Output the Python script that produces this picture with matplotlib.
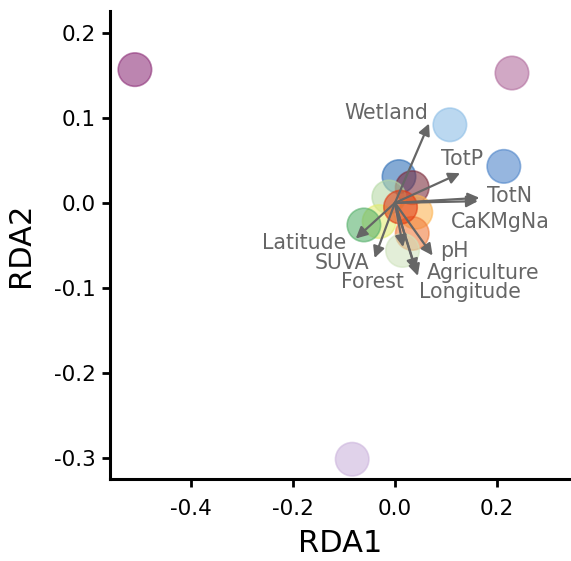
import numpy as np
import matplotlib
matplotlib.use("Agg")
import matplotlib.pyplot as plt

# Site scores (RDA1, RDA2) and fill colours
site_x = [-0.511, 0.230, -0.084, 0.108, 0.214, 0.008, 0.034, -0.012,
          0.041, -0.031, -0.061, 0.034, 0.015, 0.011]
site_y = [0.157, 0.153, -0.302, 0.092, 0.043, 0.031, 0.018, 0.007,
          -0.011, -0.022, -0.026, -0.036, -0.056, -0.005]
site_colors = ["#8c2d77", "#b06a9c", "#cbb3dc", "#8bbde6", "#4a82c8",
               "#2c6db5", "#7a2a3a", "#b5d9a5", "#fdb350", "#e4ec70",
               "#55b06a", "#f07a3a", "#cfe3bd", "#e03a12"]

# Environmental vectors: arrow tips and label positions
env_names = ["Wetland", "TotP", "TotN", "CaKMgNa", "Latitude", "SUVA",
             "Forest", "pH", "Agriculture", "Longitude"]
env_x = [0.067, 0.128, 0.166, 0.163, -0.077, -0.040, 0.016, 0.074, 0.041, 0.045]
env_y = [0.0935, 0.035, 0.006, 0.002, -0.042, -0.065, -0.052, -0.062, -0.080, -0.086]
lab_x = [-0.017, 0.131, 0.225, 0.208, -0.1775, -0.105, -0.0445, 0.117, 0.174, 0.147]
lab_y = [0.1055, 0.052, 0.008, -0.0224, -0.047, -0.0707, -0.093, -0.057, -0.083, -0.105]

fig = plt.figure(figsize=(5.71, 5.61), dpi=100)
ax = fig.add_axes([0.1926, 0.146, 0.8074, 0.834])

ax.scatter(site_x, site_y, s=580, c=site_colors, alpha=0.58,
           edgecolors=site_colors, linewidths=1.2, zorder=2)

for x, y, name, tx, ty in zip(env_x, env_y, env_names, lab_x, lab_y):
    ax.annotate("", xy=(x, y), xytext=(0, 0),
                arrowprops=dict(arrowstyle="-|>", color="#666666", lw=1.6,
                                mutation_scale=17, shrinkA=0, shrinkB=0),
                zorder=3)
    ax.text(tx, ty, name, ha="center", va="center", fontsize=14.8,
            color="#666666", zorder=4)

ax.set_xlim(-0.560, 0.346)
ax.set_ylim(-0.3254, 0.2258)
ax.set_xticks([-0.4, -0.2, 0.0, 0.2])
ax.set_xticklabels(["-0.4", "-0.2", "0.0", "0.2"])
ax.set_yticks([-0.3, -0.2, -0.1, 0.0, 0.1, 0.2])
ax.set_yticklabels(["-0.3", "-0.2", "-0.1", "0.0", "0.1", "0.2"])

for side in ["top", "right"]:
    ax.spines[side].set_visible(False)
for side in ["left", "bottom"]:
    ax.spines[side].set_linewidth(2.2)
ax.tick_params(axis="both", length=5.5, width=2, labelsize=15.5, colors="black")
ax.tick_params(axis="x", pad=9)
ax.tick_params(axis="y", pad=5)

ax.set_xlabel("RDA1", fontsize=22, labelpad=7)
ax.set_ylabel("RDA2", fontsize=22, labelpad=13)

fig.savefig("out.png", dpi=100)
